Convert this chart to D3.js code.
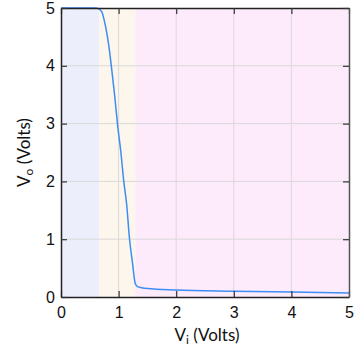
<!DOCTYPE html>
<html>
<head>
<meta charset="utf-8">
<script src="https://cdn.jsdelivr.net/npm/d3@7"></script>
<style>
  html, body { margin: 0; padding: 0; background: #fff; }
</style>
</head>
<body>
<svg id="chart" width="362" height="348"></svg>
<script>
// Inverter transfer characteristic: output voltage vs input voltage
const vin  = [0, 0.6, 0.65, 0.71, 0.77, 0.83, 0.885, 0.93, 0.98, 1.04, 1.09, 1.14, 1.19, 1.24, 1.29, 1.33, 1.4, 1.5, 2, 3, 4, 5];
const vout = [5, 5, 4.99, 4.93, 4.7, 4.35, 3.9, 3.5, 3.0, 2.5, 2.0, 1.6, 1.0, 0.6, 0.23, 0.18, 0.16, 0.145, 0.12, 0.1, 0.085, 0.07];

// Operating regions along the input axis
const regionStart = [0, 0.665, 1.29];
const regionEnd   = [0.665, 1.29, 5];
const regionColor = ["#eceefc", "#fdf6ec", "#fdebfc"];

const xTicks = [0, 1, 2, 3, 4, 5];
const yTicks = [0, 1, 2, 3, 4, 5];

const svg = d3.select("#chart");
const m = { left: 61, right: 13, top: 8, bottom: 51 };
const W = 362, H = 348;

const x = d3.scaleLinear().domain([0, 5]).range([m.left, W - m.right]);
const y = d3.scaleLinear().domain([0, 5]).range([H - m.bottom, m.top]);

// shaded regions
svg.append("g").selectAll("rect").data(regionStart).join("rect")
  .attr("x", (d, i) => x(d))
  .attr("width", (d, i) => x(regionEnd[i]) - x(d))
  .attr("y", y(5))
  .attr("height", y(0) - y(5))
  .attr("fill", (d, i) => regionColor[i]);

// grid
const grid = svg.append("g").attr("stroke", "#d9d9d9").attr("stroke-width", 1);
grid.selectAll(".gx").data(xTicks.slice(1, -1)).join("line")
  .attr("x1", d => x(d)).attr("x2", d => x(d))
  .attr("y1", y(0)).attr("y2", y(5));
grid.selectAll(".gy").data(yTicks.slice(1, -1)).join("line")
  .attr("x1", x(0)).attr("x2", x(5))
  .attr("y1", d => y(d)).attr("y2", d => y(d));

// curve
const line = d3.line()
  .x((d, i) => x(vin[i]))
  .y(d => y(d))
  .curve(d3.curveMonotoneX);
svg.append("path")
  .datum(vout)
  .attr("d", line)
  .attr("fill", "none")
  .attr("stroke", "#3d8df5")
  .attr("stroke-width", 1.5);

// axes with inward ticks on all sides
const tickLen = 6;
const fmt = d3.format("d");
const axBottom = svg.append("g").attr("transform", `translate(0,${y(0)})`)
  .call(d3.axisBottom(x).tickValues(xTicks).tickFormat(fmt).tickSizeInner(-tickLen).tickSizeOuter(0).tickPadding(10));
const axTop = svg.append("g").attr("transform", `translate(0,${y(5)})`)
  .call(d3.axisTop(x).tickValues(xTicks).tickSizeInner(-tickLen).tickSizeOuter(0).tickFormat(""));
const axLeft = svg.append("g").attr("transform", `translate(${x(0)},0)`)
  .call(d3.axisLeft(y).tickValues(yTicks).tickFormat(fmt).tickSizeInner(-tickLen).tickSizeOuter(0).tickPadding(6));
const axRight = svg.append("g").attr("transform", `translate(${x(5)},0)`)
  .call(d3.axisRight(y).tickValues(yTicks).tickSizeInner(-tickLen).tickSizeOuter(0).tickFormat(""));

[axBottom, axTop, axLeft, axRight].forEach(g => {
  g.attr("font-family", null).attr("font-size", null);
  g.select(".domain").attr("stroke", "#222").attr("stroke-width", 1.5);
  g.selectAll(".tick line").attr("stroke", "#333").attr("stroke-width", 1.2);
  g.selectAll("text")
    .style("font-family", "'Liberation Sans', Arial, sans-serif")
    .style("font-size", "16px")
    .attr("fill", "#111");
});
axRight.select(".domain").attr("stroke", "#555");

// axis titles
const titleFont = "Lato, 'Open Sans', sans-serif";
const xt = svg.append("text")
  .attr("x", 207).attr("y", 341)
  .attr("text-anchor", "middle")
  .style("font-family", titleFont).style("font-size", "17px")
  .attr("fill", "#111");
xt.append("tspan").text("V");
xt.append("tspan").style("font-size", "12px").attr("dy", 3).text("i");
xt.append("tspan").attr("dy", -3).text(" (Volts)");

const yt = svg.append("text")
  .attr("transform", `translate(30,${(y(0) + y(5)) / 2}) rotate(-90)`)
  .attr("text-anchor", "middle")
  .style("font-family", titleFont).style("font-size", "17px")
  .attr("fill", "#111");
yt.append("tspan").text("V");
yt.append("tspan").style("font-size", "12px").attr("dy", 3).text("o");
yt.append("tspan").attr("dy", -3).text(" (Volts)");
</script>
</body>
</html>
